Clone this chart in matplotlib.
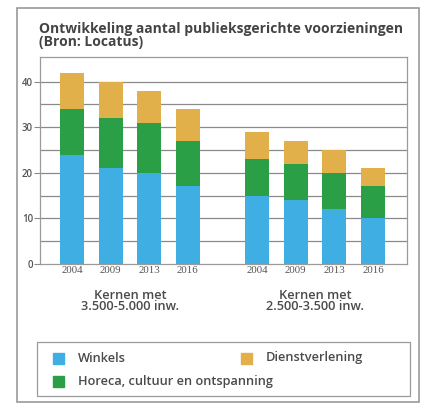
import matplotlib
matplotlib.use("Agg")
import matplotlib.pyplot as plt
from matplotlib.patches import Rectangle

years = ["2004", "2009", "2013", "2016", "2004", "2009", "2013", "2016"]
groups = ["Kernen met\n3.500-5.000 inw.", "Kernen met\n2.500-3.500 inw."]
winkels = [24, 21, 20, 17, 15, 14, 12, 10]
horeca = [10, 11, 11, 10, 8, 8, 8, 7]
dienst = [8, 8, 7, 7, 6, 5, 5, 4]
series_names = ["Winkels", "Horeca, cultuur en ontspanning", "Dienstverlening"]
yticks = [0, 10, 20, 30, 40]

positions = [0, 1, 2, 3, 4.8, 5.8, 6.8, 7.8]
c_blue = "#3eaee3"
c_green = "#2a9f45"
c_orange = "#e2b04a"
txt = "#555555"
grid_c = "#8a8a8a"

W, H = 426, 405
fig = plt.figure(figsize=(W / 100, H / 100), dpi=100)
fig.patch.set_facecolor("white")
plt.rcParams['font.family'] = ['Open Sans', 'DejaVu Sans']

# outer frame
fig.patches.append(Rectangle((17 / W, 1 - 402 / H), (419 - 17) / W, (402 - 8) / H,
                             transform=fig.transFigure, fill=False,
                             edgecolor="#9a9a9a", linewidth=1.2))

# title
fig.text(39 / W, 1 - 22 / H, "Ontwikkeling aantal publieksgerichte voorzieningen\n(Bron: Locatus)",
         ha="left", va="top", fontsize=10.0, fontweight="bold", color="#444444",
         linespacing=0.9)

ax_l, ax_r, ax_t, ax_b = 40, 407, 57, 264
ax = fig.add_axes([ax_l / W, 1 - ax_b / H, (ax_r - ax_l) / W, (ax_b - ax_t) / H])
ax.set_xlim(-0.83, 8.68)
ax.set_ylim(0, 45.4)

for v in range(5, 45, 5):
    ax.axhline(v, color=grid_c, linewidth=0.9, zorder=0)

bw = 0.62
b1 = [w for w in winkels]
b2 = [w + h for w, h in zip(winkels, horeca)]
ax.bar(positions, winkels, width=bw, color=c_blue, zorder=3)
ax.bar(positions, horeca, width=bw, bottom=b1, color=c_green, zorder=3)
ax.bar(positions, dienst, width=bw, bottom=b2, color=c_orange, zorder=3)

for s in ["top", "right", "bottom", "left"]:
    ax.spines[s].set_color("#9a9a9a")
    ax.spines[s].set_linewidth(0.9)

ax.set_yticks(yticks)
ax.set_yticklabels([str(t) for t in yticks], fontsize=7, color=txt, fontweight="semibold")
ax.tick_params(axis="y", length=4, color=grid_c, pad=1)
ax.set_xticks(positions)
ax.set_xticklabels(years, fontsize=7.8, color=txt, family=["Liberation Serif", "DejaVu Serif"])
ax.tick_params(axis="x", length=0, pad=1.5)

# group labels
for gi, g in enumerate(groups):
    xc = sum(positions[gi * 4:gi * 4 + 4]) / 4
    ax.text(xc, -0.12, g, transform=ax.get_xaxis_transform(), ha="center", va="top",
            fontsize=9.2, color="#4a4a4a", linespacing=0.8, fontweight="semibold")

# legend box
fig.patches.append(Rectangle((37 / W, 1 - 396 / H), (410 - 37) / W, (396 - 342) / H,
                             transform=fig.transFigure, fill=False,
                             edgecolor="#9a9a9a", linewidth=0.9))
leg_items = [(series_names[0], c_blue, 53, 358), (series_names[2], c_orange, 241, 358),
             (series_names[1], c_green, 53, 381)]
for name, col, x, y in leg_items:
    fig.patches.append(Rectangle((x / W, 1 - (y + 5.5) / H), 11 / W, 11 / H,
                                 transform=fig.transFigure, color=col))
    fig.text((x + 25) / W, 1 - y / H, name, ha="left", va="center",
             fontsize=9.2, color="#4a4a4a", fontweight="semibold")

fig.savefig("out.png", dpi=100)
